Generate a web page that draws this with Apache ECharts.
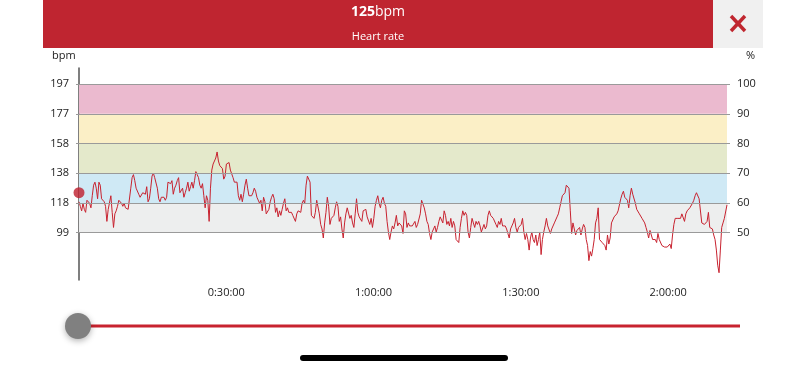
<!DOCTYPE html>
<html><head><meta charset="utf-8">
<script src="https://cdn.jsdelivr.net/npm/echarts@6/dist/echarts.min.js"></script>
<style>html,body{margin:0;padding:0;background:#fff}#c{width:805px;height:370px}</style>
</head><body><div id="c"></div>
<script>
const maxHeartRate = 197;
const currentBpm = 125;
const headerTitle = 'Heart rate';
const zonePercents = [50, 60, 70, 80, 90, 100];
const zoneColors = ['#EDEEEE', '#CFE9F5', '#E4E9CB', '#FBEFC6', '#EBBACF'];
const durationSeconds = 7920;
const timeTickStep = 1800;
const heartRate = [
119,116,113,118,114,112,120,121,118,115,123,130,132,128,121,132,130,121,120,119,116,106,114,115,123,112,102,111,113,116,120,121,118,116,118,115,116,114,114,128,135,137,133,128,129,124,122,123,125,126,124,129,119,121,128,136,138,135,134,128,121,119,122,121,122,120,122,132,133,131,133,124,128,130,133,135,125,124,128,122,125,128,132,126,129,132,128,133,139,137,135,130,128,131,123,
115,123,120,106,128,140,144,145,148,152,146,143,142,141,134,136,144,143,145,140,141,135,132,131,132,123,120,124,119,124,130,134,128,123,124,123,125,128,126,122,121,118,120,113,122,119,111,110,114,119,122,124,121,112,115,109,113,110,114,118,121,113,115,112,111,112,110,109,106,111,113,114,112,118,120,118,130,136,136,132,110,109,108,112,120,121,111,104,101,95,105,112,122,116,104,108,
109,110,115,119,116,106,109,101,95,105,111,115,114,108,110,105,102,111,121,112,109,110,106,113,114,114,109,108,104,108,102,108,116,120,123,118,115,120,122,118,116,106,99,94,99,103,101,105,110,103,105,105,103,98,113,111,102,105,103,104,103,102,106,102,104,105,111,120,121,115,111,106,104,98,94,99,101,103,99,102,106,109,108,105,113,110,104,106,103,108,102,106,103,94,95,92,
102,108,113,110,112,110,99,95,102,108,105,102,106,104,106,103,99,100,104,101,103,110,113,110,111,108,109,104,102,106,104,108,103,102,103,101,98,95,101,103,105,108,102,99,102,101,104,108,99,94,98,94,87,95,99,94,92,97,90,94,99,84,94,99,103,108,103,102,98,101,102,105,106,109,111,115,119,123,122,125,130,131,128,113,98,105,106,97,100,99,102,97,101,104,102,94,
90,80,86,83,88,94,105,108,115,94,93,92,93,90,87,97,91,95,105,106,109,108,111,113,114,121,124,126,122,123,120,115,123,128,124,123,118,114,113,111,110,108,109,105,102,99,95,100,97,94,95,94,92,98,94,93,90,91,89,90,89,88,91,88,97,104,108,109,108,109,108,111,112,106,111,113,112,115,116,118,120,123,125,124,121,121,105,104,104,103,106,112,102,103,101,97,94,87,77,72,87,102,105,108,109,117
];

const FONT = 'Open Sans';
const step = durationSeconds / (heartRate.length - 1);
const lineData = heartRate.map((v, i) => [i * step, v]);
const zoneBpm = zonePercents.map(p => maxHeartRate * p / 100);
const pctMin = 34.1, pctMax = 105.4;

function fmtTime(s) {
  const h = Math.floor(s / 3600), m = Math.floor((s % 3600) / 60), sec = Math.round(s % 60);
  return h + ':' + String(m).padStart(2, '0') + ':' + String(sec).padStart(2, '0');
}

const chart = echarts.init(document.getElementById('c'), null, {renderer: 'canvas'});
chart.setOption({
  animation: false,
  backgroundColor: '#fff',
  textStyle: {fontFamily: FONT},
  grid: {left: 79, right: 78, top: 68, bottom: 90, containLabel: false},
  xAxis: {
    type: 'value', min: 0, max: durationSeconds, interval: timeTickStep,
    axisLine: {show: false}, axisTick: {show: false}, splitLine: {show: false},
    axisLabel: {
      color: '#222', fontSize: 11, fontFamily: FONT, margin: 7,
      formatter: v => (v > 0 && v % timeTickStep === 0) ? fmtTime(v) : ''
    }
  },
  yAxis: [{
    type: 'value', position: 'left',
    min: maxHeartRate * pctMin / 100, max: maxHeartRate * pctMax / 100,
    axisLine: {show: true, lineStyle: {color: '#555', width: 1.5}},
    axisTick: {show: true, customValues: zoneBpm, length: 3, lineStyle: {color: '#999'}},
    axisLabel: {customValues: zoneBpm, formatter: v => String(Math.round(v)), color: '#222', fontSize: 11, fontFamily: FONT, margin: 10},
    splitLine: {show: false}
  }, {
    type: 'value', position: 'right', min: pctMin, max: pctMax,
    axisLine: {show: false},
    axisTick: {show: true, customValues: zonePercents, length: 3, lineStyle: {color: '#999'}},
    axisLabel: {customValues: zonePercents, formatter: v => String(Math.round(v)), color: '#222', fontSize: 11, fontFamily: FONT, margin: 10},
    splitLine: {show: false}
  }],
  series: [{
    type: 'line', xAxisIndex: 0, yAxisIndex: 0, data: lineData,
    showSymbol: false, symbol: 'none',
    lineStyle: {color: '#C8222F', width: 1},
    markArea: {
      silent: true,
      data: zoneColors.map((c, i) => [{yAxis: zoneBpm[i], itemStyle: {color: c}}, {yAxis: zoneBpm[i + 1]}])
    },
    markLine: {
      silent: true, symbol: 'none', label: {show: false},
      lineStyle: {color: '#9a9a9a', width: 1, type: 'solid'},
      data: zoneBpm.map(v => ({yAxis: v}))
    },
    z: 3
  }, {
    type: 'scatter', xAxisIndex: 0, yAxisIndex: 0, data: [[0, currentBpm]],
    symbolSize: 11, clip: false, itemStyle: {color: '#BE1E2D'}, z: 5
  }],
  graphic: [
    {type: 'rect', shape: {x: 43, y: 0, width: 670, height: 48}, style: {fill: '#BF2530'}},
    {type: 'rect', shape: {x: 713, y: 0, width: 50, height: 48}, style: {fill: '#F0F0F0'}},
    {type: 'line', shape: {x1: 731, y1: 16, x2: 745, y2: 31}, style: {stroke: '#C0262F', lineWidth: 3.5}},
    {type: 'line', shape: {x1: 745, y1: 16, x2: 731, y2: 31}, style: {stroke: '#C0262F', lineWidth: 3.5}},
    {type: 'text', x: 378, y: 12, style: {
      text: '{a|' + currentBpm + '}{b|bpm}', align: 'center', verticalAlign: 'middle',
      rich: {a: {fontSize: 14, fontWeight: 'bold', fill: '#fff', fontFamily: FONT}, b: {fontSize: 14, fill: '#fff', fontFamily: FONT}}
    }},
    {type: 'text', x: 378, y: 37, style: {text: headerTitle, fontSize: 11, fill: '#fff', fontFamily: FONT, align: 'center', verticalAlign: 'middle'}},
    {type: 'text', x: 52, y: 56, style: {text: 'bpm', fontSize: 11, fill: '#222', fontFamily: FONT, align: 'left', verticalAlign: 'middle'}},
    {type: 'text', x: 746, y: 56, style: {text: '%', fontSize: 11, fill: '#222', fontFamily: FONT, align: 'left', verticalAlign: 'middle'}},
    {type: 'line', shape: {x1: 78, y1: 326, x2: 740, y2: 326}, style: {stroke: '#C8232F', lineWidth: 3}},
    {type: 'circle', shape: {cx: 78, cy: 326, r: 13}, style: {fill: '#808080', shadowBlur: 6, shadowColor: 'rgba(0,0,0,0.3)', shadowOffsetY: 2}},
    {type: 'rect', shape: {x: 300, y: 355, width: 208, height: 6, r: 3}, style: {fill: '#000'}}
  ]
});
</script>
</body></html>
